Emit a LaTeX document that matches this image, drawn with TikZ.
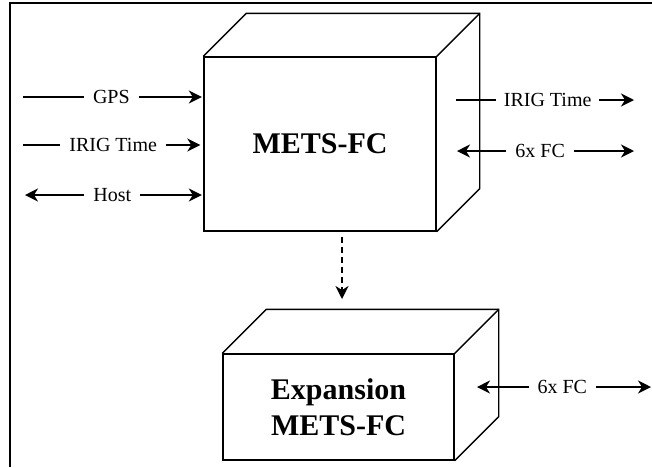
\documentclass[tikz,border=0pt]{standalone}
\usepackage{fontspec}
\setmainfont{Liberation Serif}
\usetikzlibrary{arrows.meta,calc}
\tikzset{
  boxline/.style={line width=1.4pt, line join=miter},
  frontface/.style={draw, boxline, fill=white, inner sep=0pt, align=center, font=\fontsize{30}{36}\selectfont\bfseries},
  arr/.style={line width=1.5pt, -{Stealth[length=13pt,width=13pt,inset=4pt]}},
  darr/.style={line width=1.5pt, {Stealth[length=13pt,width=13pt,inset=4pt]}-{Stealth[length=13pt,width=13pt,inset=4pt]}},
  lbl/.style={fill=white, inner xsep=9pt, inner ysep=1pt, font=\fontsize{20}{23}\selectfont},
  framel/.style={line width=2pt}
}
\begin{document}
\begin{tikzpicture}[x=1pt,y=-1pt]
\useasboundingbox (0,0) rectangle (652,467);
% frame
\coordinate (fb) at (10,467);
\coordinate (fc) at (10,3);
\coordinate (fr) at (652,3);
\draw[framel] (fb) -- (fc) -- (fr);

% main box
\node[frontface, minimum width=232pt, minimum height=174pt] (mets) at (320,144) {METS-FC};
\draw[boxline] (mets.north west) -- ++(43,-43) -- ($(mets.north east)+(43,-43)$) -- ($(mets.south east)+(43,-43)$) -- (mets.south east);
\draw[boxline] (mets.north east) -- ++(43,-43);

% expansion box
\node[frontface, minimum width=231pt, minimum height=106pt] (exp) at (338.5,407) {Expansion\\METS-FC};
\draw[boxline] (exp.north west) -- ++(44,-44) -- ($(exp.north east)+(44,-44)$) -- ($(exp.south east)+(44,-44)$) -- (exp.south east);
\draw[boxline] (exp.north east) -- ++(44,-44);

% left inputs
\coordinate (gpsin) at (23,97);
\coordinate (irigin) at (23,145);
\coordinate (hostin) at (25,195);
\draw[arr, shorten >=1.5pt] (gpsin) -- (gpsin -| mets.west) node[lbl, pos=0.49] {GPS};
\draw[arr, shorten >=3pt] (irigin) -- (irigin -| mets.west) node[lbl, pos=0.5] {IRIG Time};
\draw[darr, shorten >=1.5pt] (hostin) -- (hostin -| mets.west) node[lbl, pos=0.49] {Host};

% right outputs
\coordinate (irigs) at (456,100);
\coordinate (irigo) at (634,100);
\coordinate (fcs) at (457,151);
\coordinate (fco) at (634,151);
\draw[arr] (irigs) -- (irigo) node[lbl, pos=0.515, inner xsep=8pt] {IRIG Time};
\draw[darr] (fcs) -- (fco) node[lbl, pos=0.47] {6x FC};

% expansion outputs
\coordinate (efcs) at (477,387);
\coordinate (efco) at (651,387);
\draw[darr] (efcs) -- (efco) node[lbl, pos=0.49] {6x FC};

% dashed link
\coordinate (ds) at (342,237);
\coordinate (de) at (342,299);
\draw[arr, dash pattern=on 6pt off 4pt] (ds) -- (de);
\end{tikzpicture}
\end{document}
